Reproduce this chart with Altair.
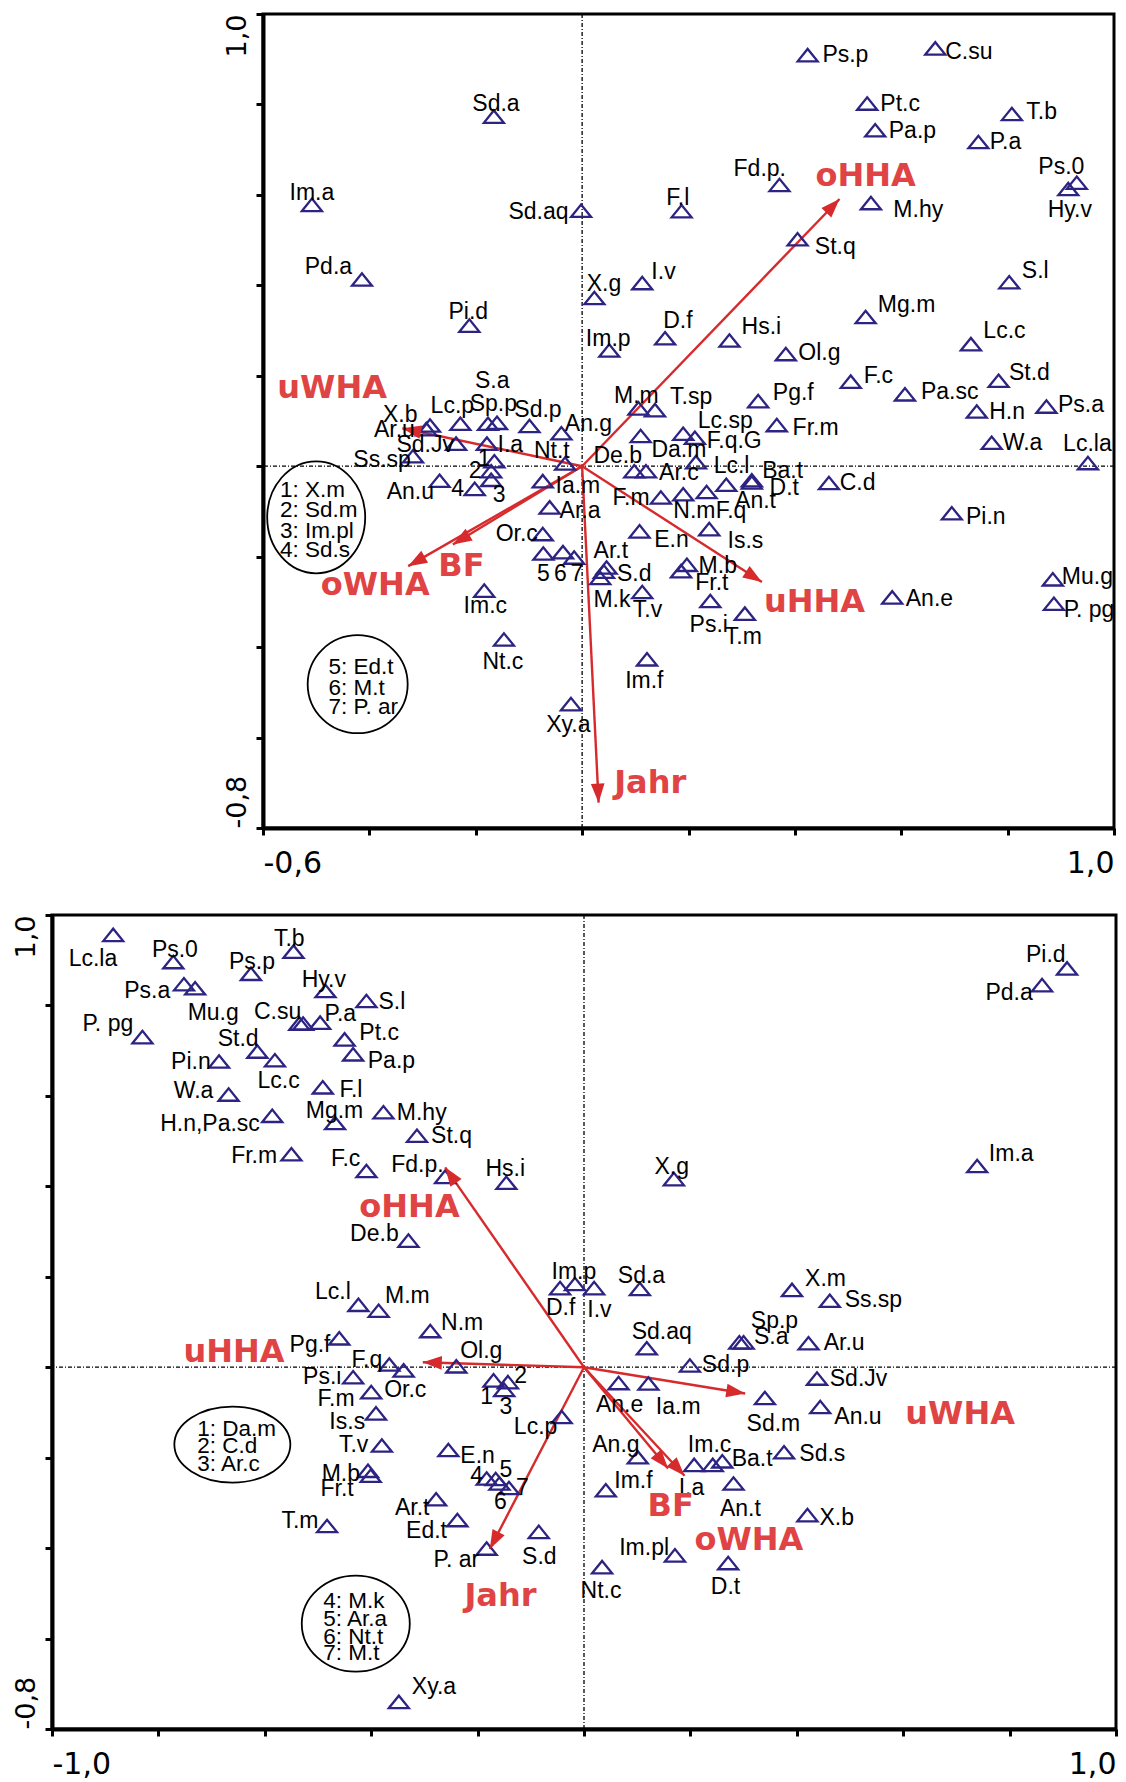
import math
import altair as alt
import pandas as pd

# ======================= TOP PANEL =======================
top_names = ["Ps.p", "C.su", "Sd.a", "Pt.c", "T.b", "Pa.p", "P.a", "Im.a", "Fd.p.", "Ps.0",
             "Hy.v", "M.hy", "F.l", "Sd.aq", "St.q", "Pd.a", "I.v", "X.g", "S.l", "Mg.m",
             "Pi.d", "D.f", "Hs.i", "Lc.c", "Im.p", "Ol.g", "F.c", "St.d", "Pa.sc", "Pg.f",
             "M.m", "T.sp", "H.n", "Ps.a", "S.a", "Lc.p", "Sp.p", "Sd.p", "X.b", "Ar.u",
             "An.g", "Lc.sp", "Fr.m", "Sd.Jv", "I.a", "Nt.t", "F.q.G", "W.a", "Lc.la", "Da.m",
             "De.b", "Ss.sp", "An.u", "1", "2", "3", "4", "Ia.m", "Ar.c", "Lc.l",
             "Ba.t", "D.t", "C.d", "An.t", "F.q", "N.m", "F.m", "Ar.a", "Pi.n", "Is.s",
             "E.n", "Or.c", "5", "6", "7", "Ar.t", "S.d", "M.k", "M.b", "Fr.t",
             "Mu.g", "T.v", "Im.c", "An.e", "P. pg", "Ps.i", "T.m", "Nt.c", "Im.f", "Xy.a"]
top_x = [0.424, 0.664, -0.166, 0.536, 0.808, 0.551, 0.745, -0.508, 0.371, 0.930,
         0.914, 0.543, 0.187, -0.002, 0.405, -0.414, 0.113, 0.023, 0.803, 0.533,
         -0.212, 0.156, 0.277, 0.731, 0.051, 0.383, 0.505, 0.783, 0.607, 0.331,
         0.106, 0.137, 0.742, 0.873, -0.160, -0.229, -0.177, -0.099, -0.286, -0.293,
         -0.039, 0.190, 0.366, -0.237, -0.179, -0.032, 0.212, 0.770, 0.951, 0.110,
         0.098, -0.318, -0.268, -0.165, -0.171, -0.171, -0.202, -0.074, 0.120, 0.214,
         0.319, 0.319, 0.464, 0.271, 0.234, 0.190, 0.148, -0.061, 0.695, 0.239,
         0.108, -0.074, -0.073, -0.036, -0.015, 0.046, 0.041, 0.034, 0.197, 0.186,
         0.885, 0.113, -0.184, 0.583, 0.887, 0.241, 0.306, -0.147, 0.122, -0.021]
top_y = [0.909, 0.924, 0.773, 0.802, 0.779, 0.743, 0.717, 0.578, 0.622, 0.627,
         0.613, 0.582, 0.564, 0.565, 0.502, 0.413, 0.405, 0.372, 0.407, 0.330,
         0.311, 0.283, 0.278, 0.270, 0.256, 0.248, 0.187, 0.189, 0.159, 0.144,
         0.128, 0.124, 0.121, 0.132, 0.096, 0.094, 0.094, 0.089, 0.090, 0.082,
         0.073, 0.072, 0.091, 0.050, 0.050, 0.006, 0.063, 0.052, 0.007, 0.067,
         -0.011, 0.022, -0.032, 0.011, -0.011, -0.030, -0.050, -0.033, -0.011, 0.009,
         -0.031, -0.036, -0.037, -0.041, -0.057, -0.062, -0.069, -0.091, -0.104, -0.139,
         -0.144, -0.150, -0.193, -0.190, -0.202, -0.224, -0.233, -0.247, -0.218, -0.232,
         -0.250, -0.278, -0.275, -0.290, -0.304, -0.298, -0.326, -0.383, -0.427, -0.526]
top_label_x = [0.495, 0.727, -0.162, 0.598, 0.864, 0.621, 0.796, -0.508, 0.334, 0.901,
               0.917, 0.632, 0.180, -0.082, 0.476, -0.477, 0.153, 0.041, 0.852, 0.610,
               -0.214, 0.180, 0.337, 0.794, 0.049, 0.446, 0.557, 0.841, 0.691, 0.397,
               0.102, 0.205, 0.799, 0.938, -0.169, -0.244, -0.167, -0.083, -0.342, -0.353,
               0.012, 0.269, 0.439, -0.295, -0.135, -0.057, 0.286, 0.828, 0.950, 0.182,
               0.067, -0.376, -0.323, -0.184, -0.201, -0.156, -0.234, -0.008, 0.182, 0.281,
               0.377, 0.380, 0.518, 0.326, 0.280, 0.211, 0.092, -0.004, 0.759, 0.307,
               0.168, -0.123, -0.073, -0.041, -0.010, 0.054, 0.098, 0.056, 0.255, 0.244,
               0.950, 0.123, -0.182, 0.653, 0.953, 0.238, 0.303, -0.149, 0.117, -0.026]
top_label_y = [0.909, 0.916, 0.800, 0.802, 0.783, 0.742, 0.717, 0.605, 0.657, 0.661,
               0.567, 0.567, 0.594, 0.562, 0.484, 0.441, 0.430, 0.402, 0.432, 0.356,
               0.341, 0.322, 0.307, 0.300, 0.281, 0.250, 0.200, 0.207, 0.165, 0.161,
               0.156, 0.152, 0.121, 0.136, 0.189, 0.133, 0.137, 0.124, 0.113, 0.080,
               0.093, 0.100, 0.085, 0.048, 0.048, 0.033, 0.056, 0.052, 0.050, 0.035,
               0.022, 0.013, -0.057, 0.016, -0.011, -0.064, -0.051, -0.044, -0.015, 0.000,
               -0.011, -0.048, -0.037, -0.076, -0.100, -0.100, -0.070, -0.098, -0.113, -0.165,
               -0.163, -0.150, -0.238, -0.238, -0.238, -0.187, -0.239, -0.296, -0.221, -0.259,
               -0.244, -0.318, -0.309, -0.293, -0.318, -0.352, -0.378, -0.432, -0.476, -0.573]

top_arrow_names = ["oHHA", "uHHA", "Jahr", "uWHA", "oWHA", "BF"]
top_arrow_x = [0.484, 0.338, 0.031, -0.338, -0.327, -0.243]
top_arrow_y = [0.591, -0.256, -0.744, 0.084, -0.221, -0.173]
top_arrow_label_x = [0.533, 0.437, 0.128, -0.470, -0.389, -0.227]
top_arrow_label_y = [0.641, -0.300, -0.700, 0.174, -0.263, -0.221]

top_key1_lines = ["1: X.m", "2: Sd.m", "3: Im.pl", "4: Sd.s"]
top_key1_x = [-0.568, -0.568, -0.568, -0.568]
top_key1_y = [-0.052, -0.096, -0.143, -0.185]
top_key1_center = [-0.500, -0.113]
top_key2_lines = ["5: Ed.t", "6: M.t", "7: P. ar"]
top_key2_x = [-0.477, -0.477, -0.477]
top_key2_y = [-0.444, -0.490, -0.533]
top_key2_center = [-0.422, -0.482]

top_x_ticks = [-0.6, -0.4, -0.2, 0.0, 0.2, 0.4, 0.6, 0.8, 1.0]
top_y_ticks = [-0.8, -0.6, -0.4, -0.2, 0.0, 0.2, 0.4, 0.6, 0.8, 1.0]
top_x_end_labels = ["-0,6", "1,0"]
top_y_end_labels = ["-0,8", "1,0"]

# ======================= BOTTOM PANEL =======================
bot_names = ["Lc.la", "Ps.0", "T.b", "Ps.p", "Ps.a", "", "Hy.v", "S.l", "Mu.g", "C.su",
             "P.a", "P. pg", "Pt.c", "St.d", "Lc.c", "Pa.p", "Pi.n", "F.l", "W.a", "H.n,Pa.sc",
             "Mg.m", "M.hy", "St.q", "Fr.m", "F.c", "Fd.p.", "Hs.i", "De.b", "Im.p", "D.f",
             "I.v", "Sd.a", "X.g", "Im.a", "Pi.d", "Pd.a", "X.m", "Ss.sp", "Lc.l", "M.m",
             "N.m", "Pg.f", "Ol.g", "F.q", "Or.c", "Ps.i", "F.m", "Is.s", "T.v", "M.b",
             "Fr.t", "T.m", "E.n", "1", "2", "3", "Lc.p", "4", "5", "6",
             "7", "Ar.t", "Ed.t", "P. ar", "S.d", "Xy.a", "Sd.aq", "Sp.p", "S.a", "Ar.u",
             "Sd.p", "Sd.Jv", "An.e", "Ia.m", "Sd.m", "An.u", "An.g", "Im.c", "I.a", "Ba.t",
             "Sd.s", "An.t", "Im.f", "X.b", "Im.pl", "D.t", "Nt.c"]
bot_x = [-0.885, -0.772, -0.546, -0.626, -0.752, -0.731, -0.486, -0.409, -0.535, -0.528,
         -0.496, -0.830, -0.450, -0.614, -0.581, -0.434, -0.686, -0.491, -0.668, -0.586,
         -0.468, -0.377, -0.314, -0.550, -0.409, -0.261, -0.146, -0.330, -0.017, -0.045,
         0.019, 0.105, 0.169, 0.739, 0.908, 0.861, 0.391, 0.462, -0.424, -0.386,
         -0.289, -0.460, -0.240, -0.366, -0.339, -0.434, -0.400, -0.391, -0.380, -0.406,
         -0.401, -0.483, -0.255, -0.170, -0.143, -0.150, -0.042, -0.183, -0.166, -0.159,
         -0.141, -0.278, -0.238, -0.183, -0.085, -0.348, 0.118, 0.292, 0.300, 0.422,
         0.199, 0.438, 0.065, 0.121, 0.340, 0.444, 0.101, 0.242, 0.207, 0.260,
         0.376, 0.281, 0.041, 0.420, 0.171, 0.271, 0.034]
bot_y = [0.956, 0.896, 0.919, 0.870, 0.847, 0.838, 0.832, 0.810, 0.760, 0.760,
         0.762, 0.730, 0.725, 0.698, 0.679, 0.692, 0.676, 0.619, 0.603, 0.556,
         0.540, 0.564, 0.512, 0.471, 0.434, 0.421, 0.408, 0.280, 0.184, 0.175,
         0.175, 0.173, 0.416, 0.445, 0.882, 0.845, 0.171, 0.147, 0.138, 0.125,
         0.080, 0.064, 0.002, 0.006, -0.007, -0.022, -0.055, -0.102, -0.173, -0.229,
         -0.240, -0.351, -0.183, -0.029, -0.033, -0.050, -0.110, -0.246, -0.247, -0.257,
         -0.267, -0.292, -0.338, -0.401, -0.364, -0.740, 0.042, 0.055, 0.055, 0.053,
         0.004, -0.025, -0.035, -0.036, -0.068, -0.088, -0.199, -0.216, -0.216, -0.208,
         -0.188, -0.257, -0.272, -0.327, -0.416, -0.433, -0.442]
bot_label_x = [-0.923, -0.769, -0.554, -0.624, -0.821, -0.731, -0.489, -0.361, -0.697, -0.576,
               -0.458, -0.895, -0.385, -0.650, -0.574, -0.362, -0.739, -0.438, -0.734, -0.703,
               -0.469, -0.305, -0.249, -0.620, -0.448, -0.313, -0.148, -0.394, -0.019, -0.044,
               0.029, 0.108, 0.165, 0.803, 0.868, 0.799, 0.454, 0.544, -0.472, -0.332,
               -0.229, -0.515, -0.193, -0.408, -0.336, -0.492, -0.466, -0.445, -0.433, -0.457,
               -0.464, -0.534, -0.200, -0.183, -0.119, -0.147, -0.091, -0.202, -0.147, -0.157,
               -0.116, -0.323, -0.296, -0.240, -0.084, -0.282, 0.146, 0.358, 0.352, 0.489,
               0.266, 0.516, 0.067, 0.177, 0.356, 0.515, 0.060, 0.236, 0.202, 0.316,
               0.448, 0.294, 0.093, 0.475, 0.113, 0.266, 0.032]
bot_label_y = [0.903, 0.923, 0.947, 0.897, 0.832, 0.838, 0.856, 0.807, 0.784, 0.786,
               0.780, 0.758, 0.738, 0.725, 0.632, 0.678, 0.676, 0.614, 0.610, 0.538,
               0.567, 0.562, 0.512, 0.467, 0.460, 0.447, 0.439, 0.295, 0.210, 0.130,
               0.127, 0.202, 0.442, 0.471, 0.912, 0.828, 0.196, 0.149, 0.167, 0.158,
               0.098, 0.050, 0.036, 0.016, -0.050, -0.022, -0.071, -0.122, -0.173, -0.236,
               -0.270, -0.340, -0.196, -0.066, -0.020, -0.088, -0.133, -0.240, -0.227, -0.298,
               -0.266, -0.312, -0.362, -0.427, -0.420, -0.708, 0.078, 0.103, 0.067, 0.053,
               0.004, -0.025, -0.084, -0.087, -0.125, -0.110, -0.171, -0.173, -0.266, -0.204,
               -0.192, -0.314, -0.251, -0.333, -0.399, -0.487, -0.494]

bot_arrow_names = ["oHHA", "uHHA", "Jahr", "uWHA", "oWHA", "BF"]
bot_arrow_x = [-0.261, -0.303, -0.177, 0.303, 0.189, 0.158]
bot_arrow_y = [0.442, 0.011, -0.402, -0.058, -0.240, -0.224]
bot_arrow_label_x = [-0.328, -0.658, -0.157, 0.707, 0.310, 0.163]
bot_arrow_label_y = [0.355, 0.034, -0.507, -0.104, -0.381, -0.307]

bot_key1_lines = ["1: Da.m", "2: C.d", "3: Ar.c"]
bot_key1_x = [-0.727, -0.727, -0.727]
bot_key1_y = [-0.136, -0.175, -0.213]
bot_key1_center = [-0.661, -0.171]
bot_key2_lines = ["4: M.k", "5: Ar.a", "6: Nt.t", "7: M.t"]
bot_key2_x = [-0.490, -0.490, -0.490, -0.490]
bot_key2_y = [-0.518, -0.557, -0.596, -0.633]
bot_key2_center = [-0.429, -0.567]

bot_x_ticks = [-1.0, -0.8, -0.6, -0.4, -0.2, 0.0, 0.2, 0.4, 0.6, 0.8, 1.0]
bot_y_ticks = [-0.8, -0.6, -0.4, -0.2, 0.0, 0.2, 0.4, 0.6, 0.8, 1.0]
bot_x_end_labels = ["-1,0", "1,0"]
bot_y_end_labels = ["-0,8", "1,0"]

# ======================= STYLE =======================
NAVY = "#2c2382"
ARROW_RED = "#d62a2c"
LABEL_RED = "#e04343"
LABEL_FONT = "Liberation Sans"
TRI_SHAPE = "M-1,0.62L0,-0.62L1,0.62Z"
HEAD_SHAPE = "M0,0L0.36,1L-0.36,1Z"
PLOT_H = 814


def ellipse_shape(rx, ry):
    k = ry / rx
    return f"M-1,0A1,{k:.3f} 0 1,1 1,0A1,{k:.3f} 0 1,1 -1,0Z"


def make_panel(names, xs, ys, lxs, lys, a_names, axs, ays, alxs, alys,
               keys, x_ticks, y_ticks, x_end, y_end, width):
    xdom = [x_ticks[0], x_ticks[-1]]
    ydom = [y_ticks[0], y_ticks[-1]]
    px_per_x = width / (xdom[1] - xdom[0])
    px_per_y = PLOT_H / (ydom[1] - ydom[0])

    x_axis = alt.Axis(
        values=x_ticks, grid=False, title=None, labelFlush=True, labelOverlap=False,
        labelExpr=(f"datum.value < {xdom[0] + 0.01} ? '{x_end[0]}' : "
                   f"(datum.value > {xdom[1] - 0.01} ? '{x_end[1]}' : '')"),
        labelFont="DejaVu Sans", labelFontSize=30, labelColor="black", labelPadding=13,
        tickSize=7, tickWidth=3, tickColor="black", domainWidth=4, domainColor="black",
    )
    y_axis = alt.Axis(
        values=y_ticks, grid=False, title=None, labelFlush=False, labelOverlap=False,
        labelExpr=(f"datum.value < {ydom[0] + 0.01} ? '{y_end[0]}' : "
                   f"(datum.value > {ydom[1] - 0.01} ? '{y_end[1]}' : '')"),
        labelAngle=270,
        labelAlign={"condition": {"test": "datum.value > 0", "value": "right"}, "value": "left"},
        labelBaseline="bottom",
        labelFont="DejaVu Sans", labelFontSize=27, labelColor="black", labelPadding=5,
        tickSize=7, tickWidth=3, tickColor="black", domainWidth=4, domainColor="black",
    )
    xs_scale = alt.Scale(domain=xdom, nice=False, zero=False)
    ys_scale = alt.Scale(domain=ydom, nice=False, zero=False)

    def X(f):
        return alt.X(f, type="quantitative", scale=xs_scale, axis=x_axis)

    def Y(f):
        return alt.Y(f, type="quantitative", scale=ys_scale, axis=y_axis)

    zero = pd.DataFrame({"v": [0.0]})
    vline = alt.Chart(zero).mark_rule(color="black", strokeWidth=1.3, strokeDash=[4, 2, 1, 2]).encode(x=X("v"))
    hline = alt.Chart(zero).mark_rule(color="black", strokeWidth=1.3, strokeDash=[4, 2, 1, 2]).encode(y=Y("v"))

    arr = pd.DataFrame({
        "name": a_names, "x0": [0.0] * len(a_names), "y0": [0.0] * len(a_names),
        "x": axs, "y": ays, "lx": alxs, "ly": alys,
    })
    arr["ang"] = [(math.degrees(math.atan2(px_per_x * a, px_per_y * b)) + 360) % 360
                  for a, b in zip(axs, ays)]
    shafts = alt.Chart(arr).mark_rule(color=ARROW_RED, strokeWidth=2.4).encode(
        x=X("x0"), y=Y("y0"), x2="x", y2="y")
    heads = alt.Chart(arr).mark_point(shape=HEAD_SHAPE, filled=True, size=1444,
                                      color=ARROW_RED, opacity=1).encode(
        x=X("x"), y=Y("y"), angle=alt.Angle("ang:Q", scale=None))
    arr_labels = alt.Chart(arr).mark_text(font="DejaVu Sans", fontWeight="bold", fontSize=32,
                                          color=LABEL_RED, clip=True).encode(
        x=X("lx"), y=Y("ly"), text="name:N")

    pts = pd.DataFrame({"name": names, "x": xs, "y": ys, "lx": lxs, "ly": lys})
    tris = alt.Chart(pts).mark_point(shape=TRI_SHAPE, filled=False, size=400, color=NAVY,
                                     strokeWidth=2.3, opacity=1).encode(x=X("x"), y=Y("y"))
    labels = alt.Chart(pts).mark_text(font=LABEL_FONT, fontSize=23, color="black",
                                      clip=True).encode(x=X("lx"), y=Y("ly"), text="name:N")

    layers = [vline, hline, shafts, tris, heads, labels, arr_labels]
    for lines, kx, ky, center, rx, ry in keys:
        kd = pd.DataFrame({"t": lines, "x": kx, "y": ky})
        cd = pd.DataFrame({"x": [center[0]], "y": [center[1]]})
        layers.append(alt.Chart(cd).mark_point(shape=ellipse_shape(rx, ry), size=(2 * rx) ** 2,
                                               filled=False, color="black", strokeWidth=1.8,
                                               opacity=1).encode(x=X("x"), y=Y("y")))
        layers.append(alt.Chart(kd).mark_text(font=LABEL_FONT, fontSize=22.5, color="black",
                                              align="left").encode(x=X("x"), y=Y("y"), text="t:N"))
    return alt.layer(*layers).properties(width=width, height=PLOT_H)


top = make_panel(top_names, top_x, top_y, top_label_x, top_label_y,
                 top_arrow_names, top_arrow_x, top_arrow_y, top_arrow_label_x, top_arrow_label_y,
                 [(top_key1_lines, top_key1_x, top_key1_y, top_key1_center, 49, 56),
                  (top_key2_lines, top_key2_x, top_key2_y, top_key2_center, 50, 49)],
                 top_x_ticks, top_y_ticks, top_x_end_labels, top_y_end_labels, 851)

bottom = make_panel(bot_names, bot_x, bot_y, bot_label_x, bot_label_y,
                    bot_arrow_names, bot_arrow_x, bot_arrow_y, bot_arrow_label_x, bot_arrow_label_y,
                    [(bot_key1_lines, bot_key1_x, bot_key1_y, bot_key1_center, 58, 38),
                     (bot_key2_lines, bot_key2_x, bot_key2_y, bot_key2_center, 54, 48)],
                    bot_x_ticks, bot_y_ticks, bot_x_end_labels, bot_y_end_labels, 1064)

spacer = alt.Chart(pd.DataFrame({"s": [0.0]})).mark_point(opacity=0).encode(
    x=alt.X("s:Q", axis=None), y=alt.Y("s:Q", axis=None)
).properties(width=147, height=PLOT_H, view=alt.ViewBackground(stroke="transparent"))

top_row = alt.hconcat(spacer, top, spacing=20)

chart = alt.vconcat(top_row, bottom, spacing=32).configure_view(
    stroke="black", strokeWidth=3
).properties(
    padding={"left": 10, "top": 11, "right": 0, "bottom": 0},
    background="white",
)

chart.save("out.html", embed_options={"renderer": "svg", "actions": False})
